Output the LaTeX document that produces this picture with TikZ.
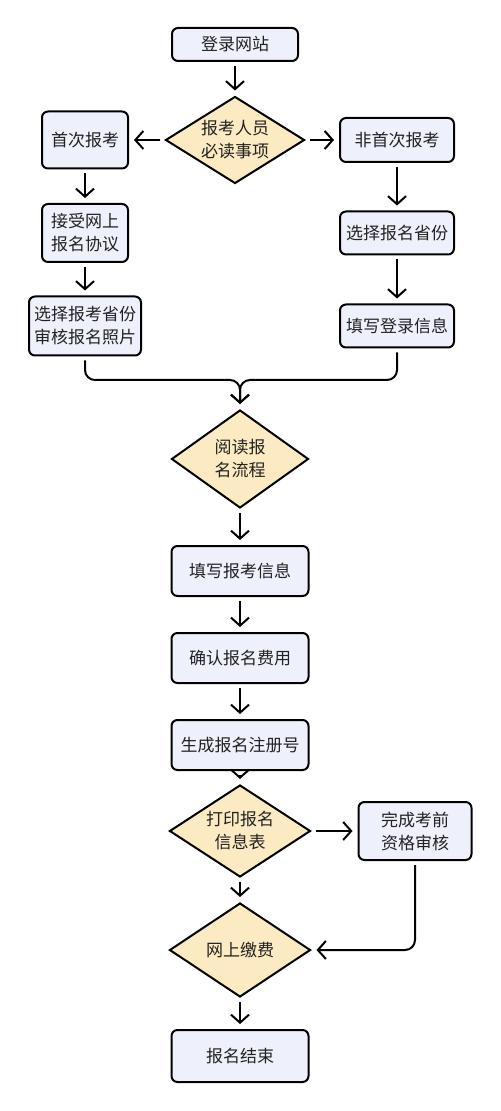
\documentclass[tikz,border=0pt]{standalone}
\usepackage{fontspec}
\setmainfont{Noto Sans CJK SC}
\usetikzlibrary{shapes.geometric,arrows.meta}
\definecolor{boxfill}{RGB}{238,241,251}
\definecolor{choicefill}{RGB}{251,234,194}
\definecolor{inkgray}{RGB}{34,34,34}

\begin{document}
\begin{tikzpicture}[x=0.5pt,y=-0.5pt,
  box/.style={shape=rectangle,rounded corners=3pt,draw=black,fill=boxfill,align=center,line width=1pt,inner sep=0pt,text=inkgray,font=\fontsize{8.5}{11.5}\selectfont},
  choice/.style={shape=diamond,draw=black,fill=choicefill,align=center,line width=1pt,inner sep=0pt,aspect=1.5,text=inkgray,font=\fontsize{8.5}{11.5}\selectfont},
  arr/.style={-{Straight Barb[length=4pt,width=9pt]},draw=black,line width=1pt,shorten >=2.5pt,shorten <=2pt}]
\useasboundingbox (0,0) rectangle (500,1111);

\node[box,minimum width=63pt,minimum height=16.5pt] (0) at (235,44.5) {登录网站};
\node[choice,minimum width=69.5pt,minimum height=43.5pt] (1) at (235,140) {报考人员\\必读事项};
\node[box,minimum width=43pt,minimum height=28.5pt] (2) at (85,140) {首次报考};
\node[box,minimum width=57pt,minimum height=22pt] (3) at (397,140) {非首次报考};
\node[box,minimum width=43pt,minimum height=29pt] (4) at (85,233) {接受网上\\报名协议};
\node[box,minimum width=57pt,minimum height=21.5pt] (5) at (397,233) {选择报名省份};
\node[box,minimum width=56pt,minimum height=29.5pt] (6) at (85,326) {选择报考省份\\审核报名照片};
\node[box,minimum width=57pt,minimum height=21.5pt] (7) at (397,326) {填写登录信息};
\coordinate (m) at (240,380);
\node[choice,minimum width=68.5pt,minimum height=49pt] (8) at (240,459) {阅读报\\名流程};
\node[box,minimum width=68.5pt,minimum height=25pt] (9) at (240,571) {填写报考信息};
\node[box,minimum width=68.5pt,minimum height=25pt] (10) at (240,658) {确认报名费用};
\node[box,minimum width=68.5pt,minimum height=25pt] (11) at (240,745) {生成报名注册号};
\node[choice,minimum width=70.5pt,minimum height=46pt] (12) at (240,831) {打印报名\\信息表};
\node[box,minimum width=56.5pt,minimum height=29pt] (13) at (415,831) {完成考前\\资格审核};
\node[choice,minimum width=70.5pt,minimum height=47pt] (14) at (240,950) {网上缴费};
\node[box,minimum width=68.5pt,minimum height=26pt] (15) at (240,1056) {报名结束};

\path [arr] (0) edge (1);
\path [arr] (1) edge (2);
\path [arr] (1) edge (3);
\path [arr] (2) edge (4);
\path [arr] (4) edge (6);
\path [arr] (3) edge (5);
\path [arr] (5) edge (7);
\draw [arr,rounded corners=5pt] (6) |- (m) -- (8);
\draw [arr,rounded corners=5pt] (7) |- (m) -- (8);
\path [arr] (8) edge (9);
\path [arr] (9) edge (10);
\path [arr] (10) edge (11);
\path [arr] (11) edge (12);
\path [arr] (12) edge (13);
\path [arr] (12) edge (14);
\draw [arr,rounded corners=5pt] (13) |- (14);
\path [arr] (14) edge (15);
\end{tikzpicture}
\end{document}
